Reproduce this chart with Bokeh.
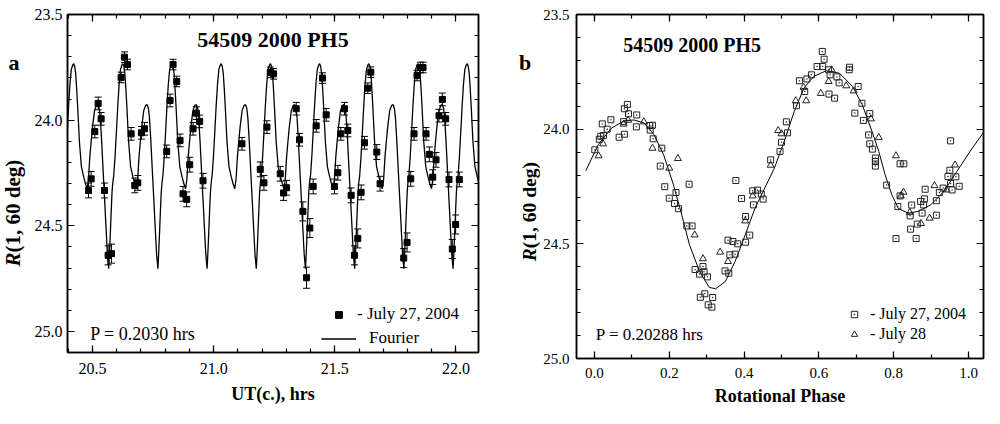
import numpy as np
from bokeh.plotting import figure
from bokeh.models import (Range1d, LinearAxis, SingleIntervalTicker, Label, Whisker,
                          ColumnDataSource, TeeHead, Legend, LegendItem, CustomJSTickFormatter,
                          PrintfTickFormatter)
from bokeh.layouts import row
from bokeh.embed import file_html
from bokeh.resources import INLINE

FONT = "Liberation Serif"

# ---------------- panel a : light curve, July 27, 2004 ----------------
ut_hours = [20.4837, 20.4946, 20.5097, 20.5235, 20.5358, 20.5496, 20.5647, 20.5784,
            20.6183, 20.6320, 20.6444, 20.6595, 20.6746, 20.6870, 20.7021, 20.7145,
            20.8064, 20.8202, 20.8326, 20.8477, 20.8614, 20.8738, 20.8889, 20.9013,
            20.9150, 20.9287, 20.9424, 20.9562, 21.1169,
            21.1924, 21.2076, 21.2199, 21.2337, 21.2474, 21.2749, 21.2886, 21.3010,
            21.3408, 21.3545, 21.3683, 21.3834, 21.3971, 21.4108, 21.4232, 21.4493, 21.4644,
            21.4987, 21.5125, 21.5248, 21.5399, 21.5537, 21.5674, 21.5811, 21.5949,
            21.6086, 21.6224, 21.6361, 21.6485, 21.6732, 21.6869,
            21.7844, 21.7982, 21.8133, 21.8270, 21.8394, 21.8531, 21.8641, 21.8765,
            21.8902, 21.9039, 21.9177, 21.9301, 21.9438, 21.9575, 21.9713, 21.9850,
            21.9987, 22.0138]
mag_a = [24.333, 24.278, 24.054, 23.921, 23.994, 24.333, 24.640, 24.632,
         23.798, 23.702, 23.737, 24.065, 24.309, 24.297, 24.060, 24.041,
         24.148, 23.907, 23.737, 23.817, 24.096, 24.349, 24.375, 24.211,
         24.041, 23.967, 24.006, 24.287, 24.112,
         24.233, 24.297, 24.033, 23.774, 23.781, 24.254, 24.345, 24.320,
         23.946, 24.093, 24.432, 24.746, 24.511, 24.314, 24.027, 23.801, 23.975,
         24.314, 24.249, 24.065, 23.946, 24.049, 24.356, 24.640, 24.560,
         24.342, 24.107, 23.849, 23.773, 24.151, 24.301,
         24.653, 24.579, 24.278, 24.065, 23.789, 23.751, 23.751, 24.065,
         24.162, 24.270, 24.188, 23.979, 23.902, 23.994, 24.281, 24.610,
         24.494, 24.281]
err_a = [0.035, 0.035, 0.03, 0.03, 0.03, 0.035, 0.045, 0.045,
         0.025, 0.025, 0.025, 0.03, 0.035, 0.035, 0.03, 0.03,
         0.03, 0.03, 0.025, 0.025, 0.03, 0.035, 0.035, 0.035,
         0.03, 0.03, 0.03, 0.035, 0.03,
         0.035, 0.035, 0.03, 0.025, 0.025, 0.035, 0.035, 0.035,
         0.03, 0.03, 0.045, 0.05, 0.045, 0.035, 0.03, 0.025, 0.03,
         0.035, 0.035, 0.03, 0.03, 0.03, 0.035, 0.045, 0.045,
         0.035, 0.03, 0.025, 0.025, 0.035, 0.035,
         0.045, 0.045, 0.035, 0.03, 0.025, 0.025, 0.025, 0.03,
         0.035, 0.035, 0.035, 0.03, 0.03, 0.03, 0.035, 0.045,
         0.045, 0.035]

# Fourier curve, one cycle (phase from the deep minimum)
fourier_phase_a = [0.000, 0.014, 0.027, 0.041, 0.055, 0.068, 0.082, 0.103, 0.130, 0.158,
                   0.185, 0.212, 0.240, 0.267, 0.288, 0.308, 0.329, 0.349, 0.370, 0.404,
                   0.445, 0.493, 0.527, 0.562, 0.589, 0.616, 0.644, 0.671, 0.712, 0.753,
                   0.781, 0.808, 0.829, 0.856, 0.890, 0.918, 0.945, 0.973]
fourier_mag_a = [24.703, 24.640, 24.570, 24.490, 24.410, 24.340, 24.300, 24.260, 24.170, 24.050,
                 23.930, 23.830, 23.760, 23.740, 23.733, 23.745, 23.780, 23.850, 23.940, 24.100,
                 24.220, 24.270, 24.300, 24.325, 24.280, 24.175, 24.100, 24.033, 23.955, 23.930,
                 23.927, 23.945, 23.990, 24.096, 24.254, 24.380, 24.506, 24.632]
period_a = 0.2030
epoch_min_a = 20.567
cycles_a = list(range(-1, 8))

# ---------------- panel b : composite phase curve ----------------
phase_jul27 = [0.001, 0.013, 0.017, 0.021, 0.024, 0.034, 0.044, 0.066, 0.080, 0.078,
               0.080, 0.088, 0.091, 0.113, 0.112, 0.148, 0.155, 0.149, 0.157, 0.180,
               0.176, 0.188, 0.200, 0.214, 0.218, 0.225, 0.253, 0.247, 0.261, 0.269,
               0.281, 0.290, 0.293, 0.302, 0.283, 0.295, 0.304, 0.314, 0.316, 0.349,
               0.359, 0.357, 0.370, 0.362, 0.376, 0.383, 0.378, 0.393, 0.404, 0.415,
               0.404, 0.423, 0.436, 0.425, 0.446, 0.451, 0.471, 0.496, 0.500, 0.513,
               0.516, 0.540, 0.548, 0.562, 0.568, 0.580, 0.595, 0.609, 0.614, 0.610,
               0.626, 0.630, 0.627, 0.642, 0.648, 0.654, 0.682, 0.681, 0.705, 0.715,
               0.696, 0.736, 0.719, 0.733, 0.736, 0.743, 0.751, 0.751, 0.751, 0.781,
               0.811, 0.817, 0.817, 0.827, 0.806, 0.844, 0.848, 0.845, 0.860, 0.863,
               0.872, 0.880, 0.876, 0.882, 0.884, 0.914, 0.914, 0.922, 0.932, 0.945,
               0.950, 0.952, 0.956, 0.966, 0.952, 0.975]
mag_jul27 = [24.090, 24.044, 24.031, 23.977, 24.028, 24.000, 23.959, 24.035, 24.022, 23.967,
             23.911, 23.892, 23.933, 23.938, 23.990, 23.984, 23.983, 24.004, 24.042, 24.083,
             24.161, 24.251, 24.301, 24.324, 24.276, 24.347, 24.240, 24.422, 24.422, 24.612,
             24.632, 24.599, 24.622, 24.644, 24.733, 24.718, 24.766, 24.776, 24.734, 24.618,
             24.628, 24.484, 24.490, 24.548, 24.545, 24.500, 24.224, 24.302, 24.493, 24.462,
             24.381, 24.269, 24.266, 24.330, 24.283, 24.305, 24.134, 24.097, 24.057, 23.968,
             24.016, 23.898, 23.789, 23.836, 23.781, 23.763, 23.727, 23.661, 23.695, 23.727,
             23.741, 23.763, 23.847, 23.865, 23.772, 23.798, 23.730, 23.741, 23.814, 23.887,
             23.930, 23.932, 23.962, 24.025, 24.064, 24.087, 24.126, 24.141, 24.161, 24.244,
             24.337, 24.291, 24.151, 24.151, 24.477, 24.378, 24.331, 24.436, 24.477, 24.414,
             24.315, 24.330, 24.366, 24.304, 24.262, 24.375, 24.312, 24.276, 24.257, 24.206,
             24.179, 24.237, 24.265, 24.208, 24.051, 24.249]
phase_jul28 = [0.011, 0.023, 0.078, 0.090, 0.132, 0.155, 0.200, 0.223, 0.268, 0.290,
               0.336, 0.357, 0.403, 0.423, 0.471, 0.491, 0.500, 0.538, 0.559, 0.566,
               0.626, 0.634, 0.605, 0.673, 0.693, 0.739, 0.760, 0.806, 0.826, 0.819,
               0.843, 0.873, 0.896, 0.909, 0.941, 0.964]
mag_jul28 = [24.116, 24.064, 23.978, 23.961, 23.968, 24.083, 24.170, 24.128, 24.461, 24.565,
             24.536, 24.577, 24.400, 24.291, 24.157, 24.006, 24.020, 23.876, 23.817, 23.876,
             23.792, 23.741, 23.844, 23.811, 23.833, 23.955, 24.036, 24.116, 24.275, 24.291,
             24.363, 24.411, 24.388, 24.246, 24.265, 24.156]
fit_phase_b = [-0.023, 0.010, 0.045, 0.080, 0.106, 0.133, 0.159, 0.185, 0.211, 0.231,
               0.254, 0.281, 0.307, 0.324, 0.350, 0.376, 0.403, 0.429, 0.481, 0.507,
               0.534, 0.560, 0.586, 0.620, 0.655, 0.690, 0.716, 0.742, 0.760, 0.777,
               0.795, 0.812, 0.838, 0.865, 0.899, 0.934, 0.969, 1.004, 1.048]
fit_mag_b = [24.181, 24.068, 23.996, 23.963, 23.960, 23.973, 24.024, 24.112, 24.242, 24.359,
             24.504, 24.621, 24.690, 24.696, 24.664, 24.577, 24.461, 24.345, 24.170, 24.054,
             23.923, 23.821, 23.770, 23.745, 23.756, 23.814, 23.894, 24.010, 24.097, 24.199,
             24.286, 24.345, 24.366, 24.359, 24.330, 24.272, 24.184, 24.097, 23.996]

H = 408
INK = "black"


def style_axes(p, xtick, ytick, tick_size, xstand, ystand):
    p.xgrid.visible = False
    p.ygrid.visible = False
    p.outline_line_color = INK
    p.outline_line_width = 1.5
    p.background_fill_color = "white"
    p.border_fill_color = "white"
    for ax, tk, st in ((p.below[0], xtick, xstand), (p.left[0], ytick, ystand)):
        ax.ticker = tk
        ax.formatter = PrintfTickFormatter(format="%.1f")
        ax.major_tick_in = 7
        ax.major_tick_out = 0
        ax.minor_tick_in = 4
        ax.minor_tick_out = 0
        ax.axis_line_width = 1.5
        ax.axis_line_color = INK
        ax.major_tick_line_color = INK
        ax.minor_tick_line_color = INK
        ax.major_tick_line_width = 1.2
        ax.minor_tick_line_width = 1.2
        ax.major_label_text_font = FONT
        ax.major_label_text_font_size = tick_size
        ax.major_label_text_color = INK
        ax.major_label_standoff = st
    for tk, place in ((xtick, "above"), (ytick, "right")):
        ax = LinearAxis(ticker=tk, formatter=CustomJSTickFormatter(code="return ''"),
                        major_tick_in=7, major_tick_out=0,
                        minor_tick_in=4, minor_tick_out=0, axis_line_width=1.5,
                        axis_line_color=INK, major_tick_line_color=INK, minor_tick_line_color=INK,
                        major_tick_line_width=1.2, minor_tick_line_width=1.2,
                        major_label_standoff=0, major_label_text_font_size="1px")
        p.add_layout(ax, place)


def strip(width):
    s = figure(frame_width=width, frame_height=H, x_range=Range1d(0, width),
               y_range=Range1d(H, 0), x_axis_type=None, y_axis_type=None,
               min_border=0, output_backend="svg", toolbar_location=None)
    s.xgrid.visible = False
    s.ygrid.visible = False
    s.outline_line_color = None
    s.background_fill_color = "white"
    s.border_fill_color = "white"
    return s


def text(target, x, y, t, size, style="normal", align="left", angle=0.0):
    target.add_layout(Label(x=x, y=y, text=t, angle=angle, text_font=FONT,
                            text_font_size=size, text_font_style=style, text_color=INK,
                            text_align=align, text_baseline="middle"))


def ylabel(s, x, y_bottom, size, r_width):
    text(s, x, y_bottom, "R", size, "bold italic", "left", np.pi / 2)
    text(s, x, y_bottom - r_width, "(1, 60 deg)", size, "bold", "left", np.pi / 2)


def xlabel(ax, t, stand):
    ax.axis_label = t
    ax.axis_label_text_font = FONT
    ax.axis_label_text_font_size = "18px"
    ax.axis_label_text_font_style = "bold"
    ax.axis_label_text_color = INK
    ax.axis_label_standoff = stand


def style_legend(lg, gw, gh, size):
    lg.border_line_color = None
    lg.background_fill_alpha = 0
    lg.padding = 0
    lg.margin = 0
    lg.spacing = 0
    lg.glyph_width = gw
    lg.glyph_height = gh
    lg.label_height = 20
    lg.label_text_font = FONT
    lg.label_text_font_size = size
    lg.label_text_color = INK


# ================= strip left of panel a =================
s1 = strip(27)
text(s1, 13.5, 47.5, "a", "22px", "bold", "center")
ylabel(s1, 12.5, 252, "21px", 14)

# ================= panel a =================
p1 = figure(frame_width=411, frame_height=338,
            x_range=Range1d(20.397, 22.093), y_range=Range1d(25.1, 23.5),
            min_border_left=40, min_border_right=20, min_border_top=14, min_border_bottom=56,
            output_backend="svg", toolbar_location=None)
style_axes(p1, SingleIntervalTicker(interval=0.5, num_minor_ticks=5),
           SingleIntervalTicker(interval=0.5, num_minor_ticks=5), "16px", 10, 5)
xlabel(p1.below[0], "UT(c.), hrs", 7)

curve_x, curve_y = [], []
for k in cycles_a:
    for ph, m in zip(fourier_phase_a, fourier_mag_a):
        curve_x.append(epoch_min_a + (k + ph) * period_a)
        curve_y.append(m)
r_four = p1.line(curve_x, curve_y, line_color=INK, line_width=1.3)

src_a = ColumnDataSource(dict(x=ut_hours, y=mag_a,
                              lo=[m - e for m, e in zip(mag_a, err_a)],
                              hi=[m + e for m, e in zip(mag_a, err_a)]))
wh = Whisker(base="x", lower="lo", upper="hi", source=src_a, dimension="height",
             line_color=INK, line_width=1,
             upper_head=TeeHead(size=7, line_color=INK, line_width=1),
             lower_head=TeeHead(size=7, line_color=INK, line_width=1))
p1.add_layout(wh)
r_sq = p1.scatter("x", "y", source=src_a, marker="square", size=6, color=INK)

leg1 = Legend(items=[LegendItem(label="- July 27, 2004", renderers=[r_sq])],
              location=(254, 28), label_standoff=1)
leg2 = Legend(items=[LegendItem(label="Fourier", renderers=[r_four])],
              location=(254, 4), label_standoff=13)
for lg in (leg1, leg2):
    style_legend(lg, 35, 17, "17px")
    p1.add_layout(lg)

text(p1, 21.2446, 23.618, "54509 2000 PH5", "22px", "bold", "center")
text(p1, 20.4905, 25.014, "P = 0.2030 hrs", "18px")

# ================= strip left of panel b =================
s2 = strip(42)
text(s2, 26.5, 47.5, "b", "22px", "bold", "center")
ylabel(s2, 30.5, 246.7, "19.5px", 13)

# ================= panel b =================
p2 = figure(frame_width=407, frame_height=344,
            x_range=Range1d(-0.048, 1.04), y_range=Range1d(25.0, 23.5),
            min_border_left=35, min_border_right=2, min_border_top=13, min_border_bottom=51,
            output_backend="svg", toolbar_location=None)
style_axes(p2, SingleIntervalTicker(interval=0.2, num_minor_ticks=2),
           SingleIntervalTicker(interval=0.5, num_minor_ticks=5), "15px", 9, 7)
xlabel(p2.below[0], "Rotational Phase", 5)

p2.line(fit_phase_b, fit_mag_b, line_color=INK, line_width=1)
r27 = p2.scatter(phase_jul27, mag_jul27, marker="square_dot", size=6,
                 line_color="#222222", fill_color=None, line_width=1)
r28 = p2.scatter(phase_jul28, mag_jul28, marker="triangle", size=7,
                 line_color="#222222", fill_color=None, line_width=1)

leg3 = Legend(items=[LegendItem(label="- July 27, 2004", renderers=[r27]),
                     LegendItem(label="- July 28", renderers=[r28])],
              location=(270, 14), label_standoff=8)
style_legend(leg3, 16, 16, "16px")
p2.add_layout(leg3)

text(p2, 0.261, 23.635, "54509 2000 PH5", "20px", "bold", "center")
text(p2, 0.0036, 24.895, "P = 0.20288 hrs", "17px")

layout = row(s1, p1, s2, p2)
open("out.html", "w").write(file_html(layout, INLINE))
